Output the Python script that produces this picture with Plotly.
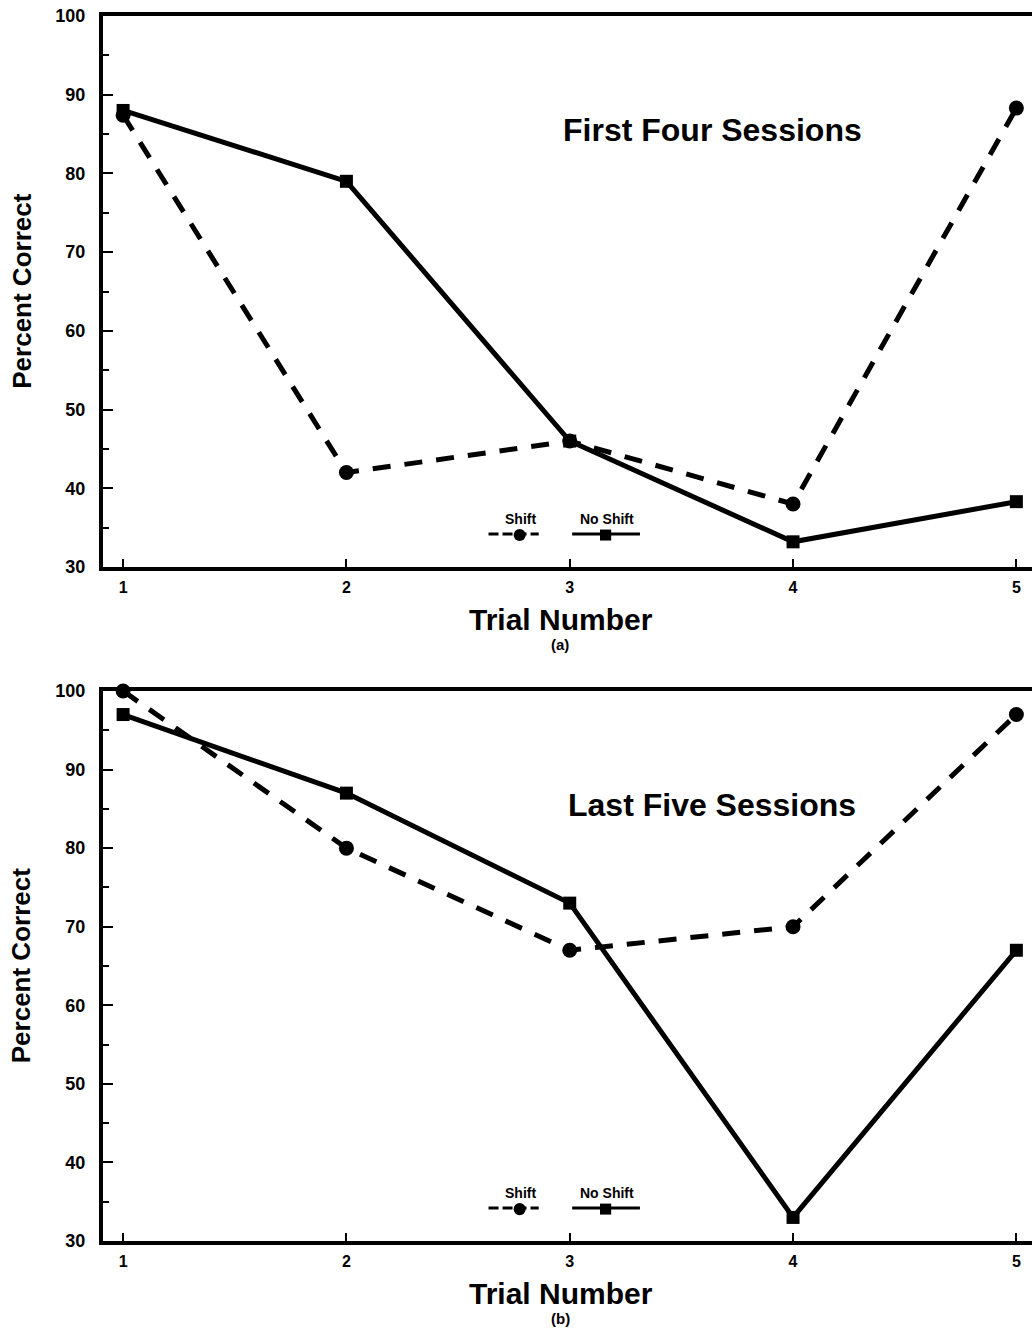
import plotly.graph_objects as go
from plotly.subplots import make_subplots

trials = [1, 2, 3, 4, 5]
# Panel (a): First Four Sessions
a_shift = [87.4, 42, 46, 38, 88.3]
a_noshift = [88, 79, 46, 33.2, 38.3]
# Panel (b): Last Five Sessions
b_shift = [100, 80, 67, 70, 97]
b_noshift = [97, 87, 73, 33, 67]

panel_titles = ["First Four Sessions", "Last Five Sessions"]
panel_letters = ["(a)", "(b)"]
y_ticks = [30, 40, 50, 60, 70, 80, 90, 100]
x_ticks = [1, 2, 3, 4, 5]

FONT = "Liberation Sans"

def bfont(size):
    return dict(family=FONT, size=size, color="black", weight="bold")

fig = make_subplots(rows=2, cols=1, vertical_spacing=0.101)
fig.update_layout(
    yaxis=dict(domain=[0.5502, 1.0]),
    yaxis2=dict(domain=[0.0, 0.449]),
)

for i, (s, n) in enumerate([(a_shift, a_noshift), (b_shift, b_noshift)], start=1):
    fig.add_trace(go.Scatter(
        x=trials, y=n, mode="lines+markers", name="No Shift",
        line=dict(color="black", width=5),
        marker=dict(symbol="square", size=13, color="black"),
        showlegend=False, cliponaxis=False), row=i, col=1)
    fig.add_trace(go.Scatter(
        x=trials, y=s, mode="lines+markers", name="Shift",
        line=dict(color="black", width=5, dash="18px,14px"),
        marker=dict(symbol="circle", size=15, color="black"),
        showlegend=False, cliponaxis=False), row=i, col=1)

for i in (1, 2):
    fig.update_xaxes(
        row=i, col=1, range=[0.91, 5.07], tickvals=x_ticks,
        ticktext=[str(v) for v in x_ticks],
        ticks="inside", ticklen=8, tickwidth=2, tickcolor="black",
        showline=True, linewidth=4, linecolor="black", mirror=True,
        showgrid=False, zeroline=False, tickfont=bfont(16), ticklabelstandoff=3)
    fig.update_yaxes(
        row=i, col=1, range=[30, 100], tickvals=y_ticks,
        ticks="inside", ticklen=10, tickwidth=2, tickcolor="black",
        minor=dict(ticks="inside", ticklen=6, dtick=5, tick0=30, tickwidth=2, tickcolor="black"),
        showline=True, linewidth=4, linecolor="black", mirror=False,
        showgrid=False, zeroline=False, tickfont=bfont(18), ticklabelstandoff=10)

annotations = []
shapes = []
for i, (xr, yr, ydom) in enumerate([("x", "y", [0.5502, 1.0]), ("x2", "y2", [0.0, 0.449])]):
    h = ydom[1] - ydom[0]
    annotations.append(dict(text=panel_titles[i], xref=xr + " domain", yref=yr + " domain",
                            x=0.656, y=0.793, showarrow=False, yanchor="middle",
                            font=bfont(32)))
    annotations.append(dict(text="Percent Correct", xref="paper", yref="paper",
                            x=-0.088, y=ydom[0] + h * 0.5, textangle=-90, showarrow=False,
                            xanchor="center", yanchor="middle", font=bfont(26)))
    annotations.append(dict(text="Trial Number", xref=xr + " domain", yref="paper",
                            x=0.493, y=ydom[0] - 0.043, showarrow=False, yanchor="middle",
                            font=bfont(30)))
    annotations.append(dict(text=panel_letters[i], xref=xr + " domain", yref="paper",
                            x=0.492, y=ydom[0] - 0.063, showarrow=False, yanchor="middle",
                            font=bfont(15)))
    annotations.append(dict(text="Shift", xref=xr + " domain", yref=yr + " domain",
                            x=0.449, y=0.087, showarrow=False, yanchor="middle",
                            font=bfont(14)))
    annotations.append(dict(text="No Shift", xref=xr + " domain", yref=yr + " domain",
                            x=0.542, y=0.087, showarrow=False, yanchor="middle",
                            font=bfont(14)))
    ly = 0.06
    shapes.append(dict(type="line", xref=xr + " domain", yref=yr + " domain",
                       x0=0.415, x1=0.469, y0=ly, y1=ly,
                       line=dict(color="black", width=3, dash="10px,4px")))
    shapes.append(dict(type="circle", xref=xr + " domain", yref=yr + " domain",
                       x0=0.442, x1=0.455, y0=ly - 0.013, y1=ly + 0.009,
                       fillcolor="black", line=dict(color="black", width=0)))
    shapes.append(dict(type="line", xref=xr + " domain", yref=yr + " domain",
                       x0=0.505, x1=0.578, y0=ly, y1=ly,
                       line=dict(color="black", width=3)))
    shapes.append(dict(type="rect", xref=xr + " domain", yref=yr + " domain",
                       x0=0.535, x1=0.547, y0=ly - 0.012, y1=ly + 0.008,
                       fillcolor="black", line=dict(color="black", width=0)))

fig.update_layout(
    width=1032, height=1339,
    margin=dict(l=103, r=0, t=16, b=98),
    paper_bgcolor="white", plot_bgcolor="white",
    annotations=annotations, shapes=shapes,
    font=dict(family=FONT, color="black"),
)

fig.write_html("out.html", config={"displayModeBar": False},
               post_script="document.body.style.margin='0';document.body.style.overflow='hidden';")
